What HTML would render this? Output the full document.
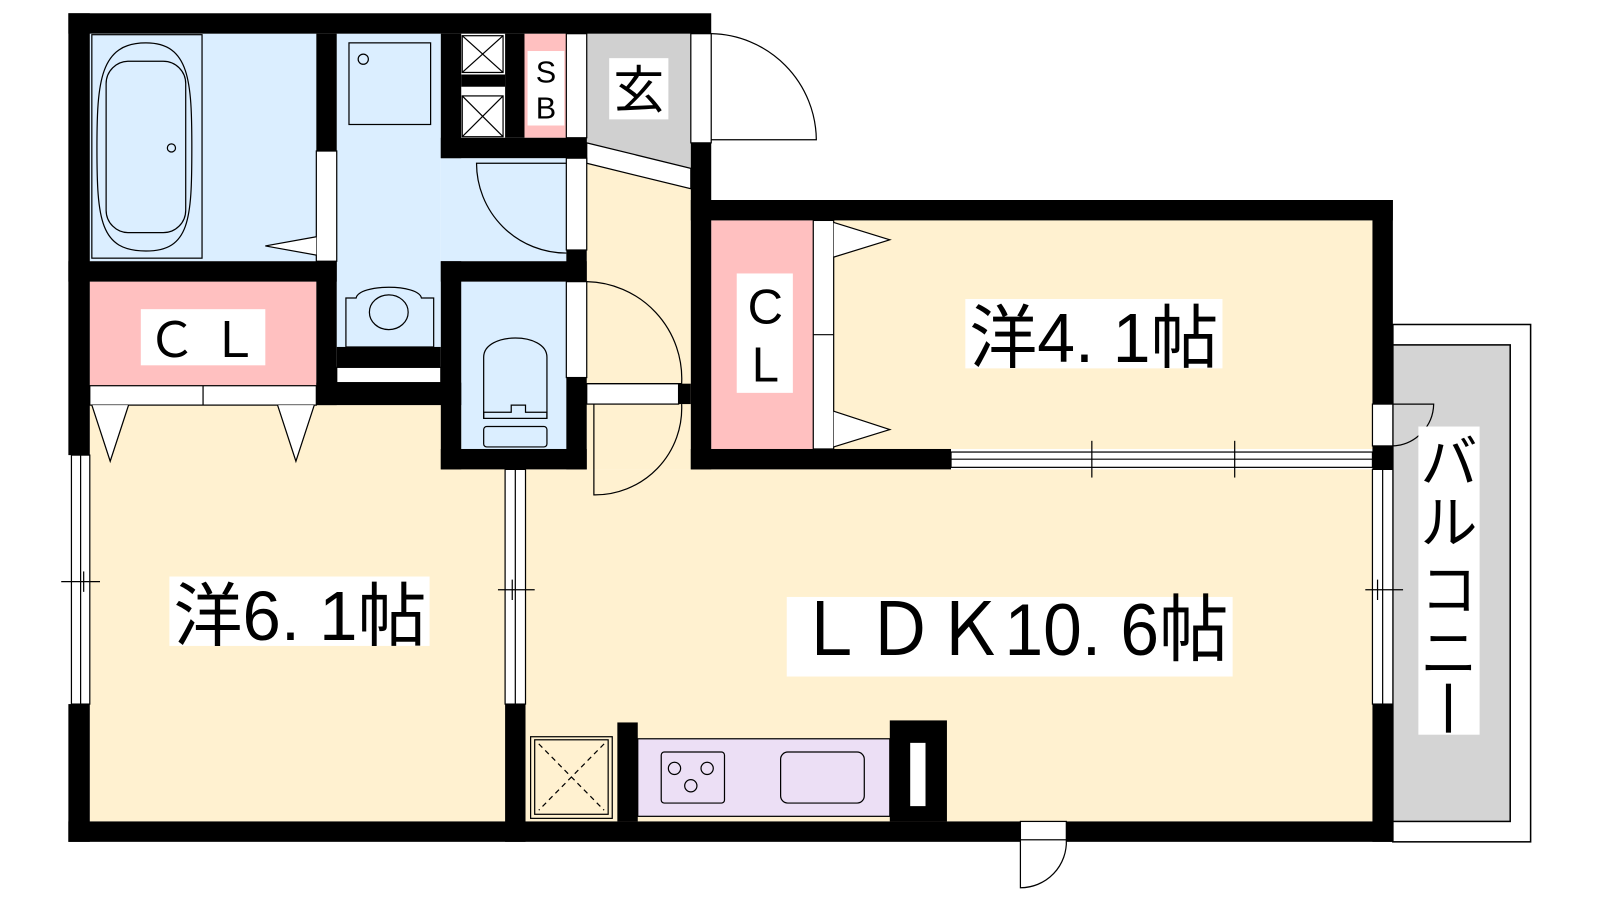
<!DOCTYPE html>
<html><head><meta charset="utf-8"><style>html,body{margin:0;padding:0;background:#fff}svg{display:block}text{font-family:"Liberation Sans","Noto Sans CJK JP",sans-serif}</style></head><body>
<svg width="1600" height="900" viewBox="0 0 1568 882" preserveAspectRatio="none" xmlns="http://www.w3.org/2000/svg">
<rect width="1568" height="882" fill="#fff"/>
<rect x="1365" y="318" width="135" height="507" fill="#fff" stroke="#000" stroke-width="1.5"/>
<rect x="1365" y="338" width="115" height="467" fill="#d4d4d4" stroke="#000" stroke-width="1.5"/>
<rect x="88" y="397" width="415" height="408" fill="#fff1d0"/>
<rect x="515" y="460" width="830" height="345" fill="#fff1d0"/>
<rect x="575" y="150" width="102" height="310" fill="#fff1d0"/>
<rect x="817" y="216" width="528" height="224" fill="#fff1d0"/>
<rect x="697" y="216" width="100" height="224" fill="#ffc0c0"/>
<rect x="88" y="33" width="222" height="223" fill="#dbeeff"/>
<rect x="88" y="276" width="222" height="102" fill="#ffc0c0"/>
<rect x="330" y="33" width="102" height="307" fill="#dbeeff"/>
<rect x="432" y="155" width="123" height="101" fill="#dbeeff"/>
<rect x="452" y="276" width="103" height="164" fill="#dbeeff"/>
<rect x="514" y="33" width="41" height="102" fill="#ffc0c0"/>
<polygon points="575,33 677,33 677,165 575,140" fill="#d0d0d0"/>
<polygon points="575,140 677,165 677,185 575,160" fill="#fff" stroke="#000" stroke-width="1.2"/>
<g fill="#000">
<rect x="67" y="13" width="630" height="20"/>
<rect x="67" y="13" width="21" height="433"/>
<rect x="67" y="690" width="21" height="135"/>
<rect x="67" y="805" width="933" height="20"/>
<rect x="1045" y="805" width="320" height="20"/>
<rect x="677" y="140" width="20" height="320"/>
<rect x="677" y="196" width="688" height="20"/>
<rect x="1345" y="196" width="20" height="200"/>
<rect x="1345" y="437" width="20" height="23"/>
<rect x="1345" y="690" width="20" height="135"/>
<rect x="677" y="440" width="255" height="20"/>
<rect x="310" y="33" width="20" height="115"/>
<rect x="67" y="256" width="263" height="20"/>
<rect x="310" y="256" width="20" height="141"/>
<rect x="310" y="375" width="142" height="22"/>
<rect x="330" y="340" width="102" height="20"/>
<rect x="432" y="33" width="20" height="122"/>
<rect x="432" y="135" width="143" height="20"/>
<rect x="495" y="33" width="19" height="102"/>
<rect x="452" y="73" width="43" height="12"/>
<rect x="555" y="135" width="20" height="20"/>
<rect x="432" y="256" width="143" height="20"/>
<rect x="432" y="256" width="20" height="204"/>
<rect x="432" y="440" width="143" height="20"/>
<rect x="555" y="370" width="20" height="90"/>
<rect x="555" y="245" width="20" height="31"/>
<rect x="665" y="376" width="12" height="20"/>
<rect x="495" y="690" width="20" height="135"/>
<rect x="605" y="708" width="20" height="97"/>
<rect x="872" y="706" width="56" height="99"/>
</g>
<rect x="892" y="728" width="15" height="62" fill="#fff"/>
<g fill="#fff" stroke="#000" stroke-width="1.2">
<rect x="70" y="446" width="18" height="244"/>
<rect x="495" y="460" width="20" height="230"/>
<rect x="1345" y="460" width="20" height="230"/>
<rect x="932" y="443" width="413" height="15"/>
<rect x="310" y="148" width="20" height="108"/>
<rect x="330" y="360" width="102" height="15"/>
<rect x="88" y="378" width="222" height="19"/>
<rect x="555" y="33" width="20" height="102"/>
<rect x="555" y="155" width="20" height="90"/>
<rect x="555" y="276" width="20" height="94"/>
<rect x="575" y="376" width="90" height="20"/>
<rect x="677" y="33" width="20" height="107"/>
<rect x="797" y="216" width="20" height="224"/>
<rect x="1345" y="396" width="20" height="41"/>
<rect x="1000" y="805" width="45" height="18"/>
</g>
<g stroke="#000" stroke-width="1.2" fill="none">
<line x1="79" y1="446" x2="79" y2="690"/><line x1="60" y1="570" x2="98" y2="570"/><line x1="82" y1="560" x2="82" y2="580"/>
<line x1="505" y1="460" x2="505" y2="690"/><line x1="488" y1="578" x2="524" y2="578"/><line x1="502" y1="568" x2="502" y2="588"/>
<line x1="1355" y1="460" x2="1355" y2="690"/><line x1="1338" y1="578" x2="1375" y2="578"/><line x1="1350" y1="568" x2="1350" y2="588"/>
<line x1="932" y1="450" x2="1345" y2="450"/><line x1="1070" y1="432" x2="1070" y2="468"/><line x1="1210" y1="432" x2="1210" y2="468"/>
<line x1="199" y1="378" x2="199" y2="397"/><line x1="797" y1="328" x2="817" y2="328"/>
<path d="M697,33 A105,105 0 0 1 800,137 L697,137"/>
<path d="M555,160 L467,160 A88,88 0 0 0 555,248"/>
<path d="M575,276 A95,95 0 0 1 668,376 L575,376"/>
<path d="M582,396 L582,485 A85,85 0 0 0 668,396"/>
<path d="M1365,396 L1405,396 A42,42 0 0 1 1365,437"/>
<path d="M1000,823 L1000,870 A45,45 0 0 0 1045,823"/>
<path d="M90,397 L108,452 L126,397" fill="#fff"/>
<path d="M272,397 L290,452 L308,397" fill="#fff"/>
<path d="M817,218 L872,235 L817,252" fill="#fff"/>
<path d="M817,403 L872,421 L817,438" fill="#fff"/>
<path d="M310,232 L260,241 L310,250" fill="#fff"/>
<rect x="90" y="34" width="108" height="219"/>
<path d="M143,42 C98,42 95,80 95,145 C95,215 98,246 143,246 C186,246 188,215 188,145 C188,80 186,42 143,42Z"/>
<rect x="104" y="60" width="78" height="168" rx="22"/>
<circle cx="168" cy="145" r="4"/>
<rect x="342" y="42" width="80" height="80"/><circle cx="356" cy="58" r="5"/>
<path d="M339,340 L339,292 L349,292 C352,278 410,278 413,292 L425,292 L425,340Z"/>
<ellipse cx="381" cy="306" rx="19" ry="17"/>
<path d="M474,410 L474,350 C474,325 536,325 536,350 L536,410Z"/>
<path d="M474,410 L474,404 L501,404 L501,397 L515,397 L515,404 L536,404 L536,410"/>
<rect x="474" y="418" width="62" height="20" rx="3"/>
<rect x="453" y="35" width="40" height="36" fill="#fff"/><path d="M453,35 L493,71 M493,35 L453,71"/>
<rect x="453" y="94" width="40" height="40" fill="#fff"/><path d="M453,94 L493,134 M493,94 L453,134"/>
<rect x="524" y="725" width="72" height="73" fill="#fff1d0"/>
<path d="M528,729 L592,794 M592,729 L528,794" stroke-dasharray="5,4"/>
<rect x="625" y="724" width="247" height="76" fill="#ecdff5"/>
<rect x="648" y="737" width="62" height="50" rx="3"/>
<circle cx="661" cy="753" r="6"/><circle cx="693" cy="753" r="6"/><circle cx="677" cy="770" r="6"/>
<rect x="765" y="737" width="82" height="50" rx="7"/>
</g>
<rect x="520" y="722" width="80" height="80" fill="none" stroke="#000" stroke-width="1.2"/>
<rect x="517" y="50" width="36" height="73" fill="#fff"/>
<text x="535" y="81" font-size="30" text-anchor="middle">S</text>
<text x="535" y="116" font-size="30" text-anchor="middle">B</text>
<rect x="597" y="57" width="58" height="60" fill="#fff"/>
<text x="626" y="106" font-size="50" text-anchor="middle">玄</text>
<rect x="138" y="303" width="122" height="55" fill="#fff"/>
<text x="199" y="350" font-size="48" text-anchor="middle">Ｃ Ｌ</text>
<rect x="722" y="268" width="55" height="117" fill="#fff"/>
<text x="750" y="317" font-size="48" text-anchor="middle">C</text>
<text x="750" y="374" font-size="48" text-anchor="middle">L</text>
<rect x="946" y="293" width="252" height="68" fill="#fff"/>
<text x="950" y="355" font-size="68" textLength="244" lengthAdjust="spacingAndGlyphs">洋4. 1帖</text>
<rect x="166" y="565" width="255" height="68" fill="#fff"/>
<text x="170" y="627" font-size="68" textLength="248" lengthAdjust="spacingAndGlyphs">洋6. 1帖</text>
<rect x="771" y="585" width="437" height="78" fill="#fff"/>
<text x="780" y="642" font-size="72" textLength="424" lengthAdjust="spacingAndGlyphs">ＬＤＫ10. 6帖</text>
<rect x="1390" y="418" width="60" height="302" fill="#fff"/>
<g font-size="56" text-anchor="middle">
<text x="1420" y="473">バ</text><text x="1420" y="532">ル</text><text x="1420" y="598">コ</text><text x="1420" y="660">ニ</text>
</g>
<rect x="1417" y="670" width="5" height="48" fill="#000"/>
</svg>
</body></html>
